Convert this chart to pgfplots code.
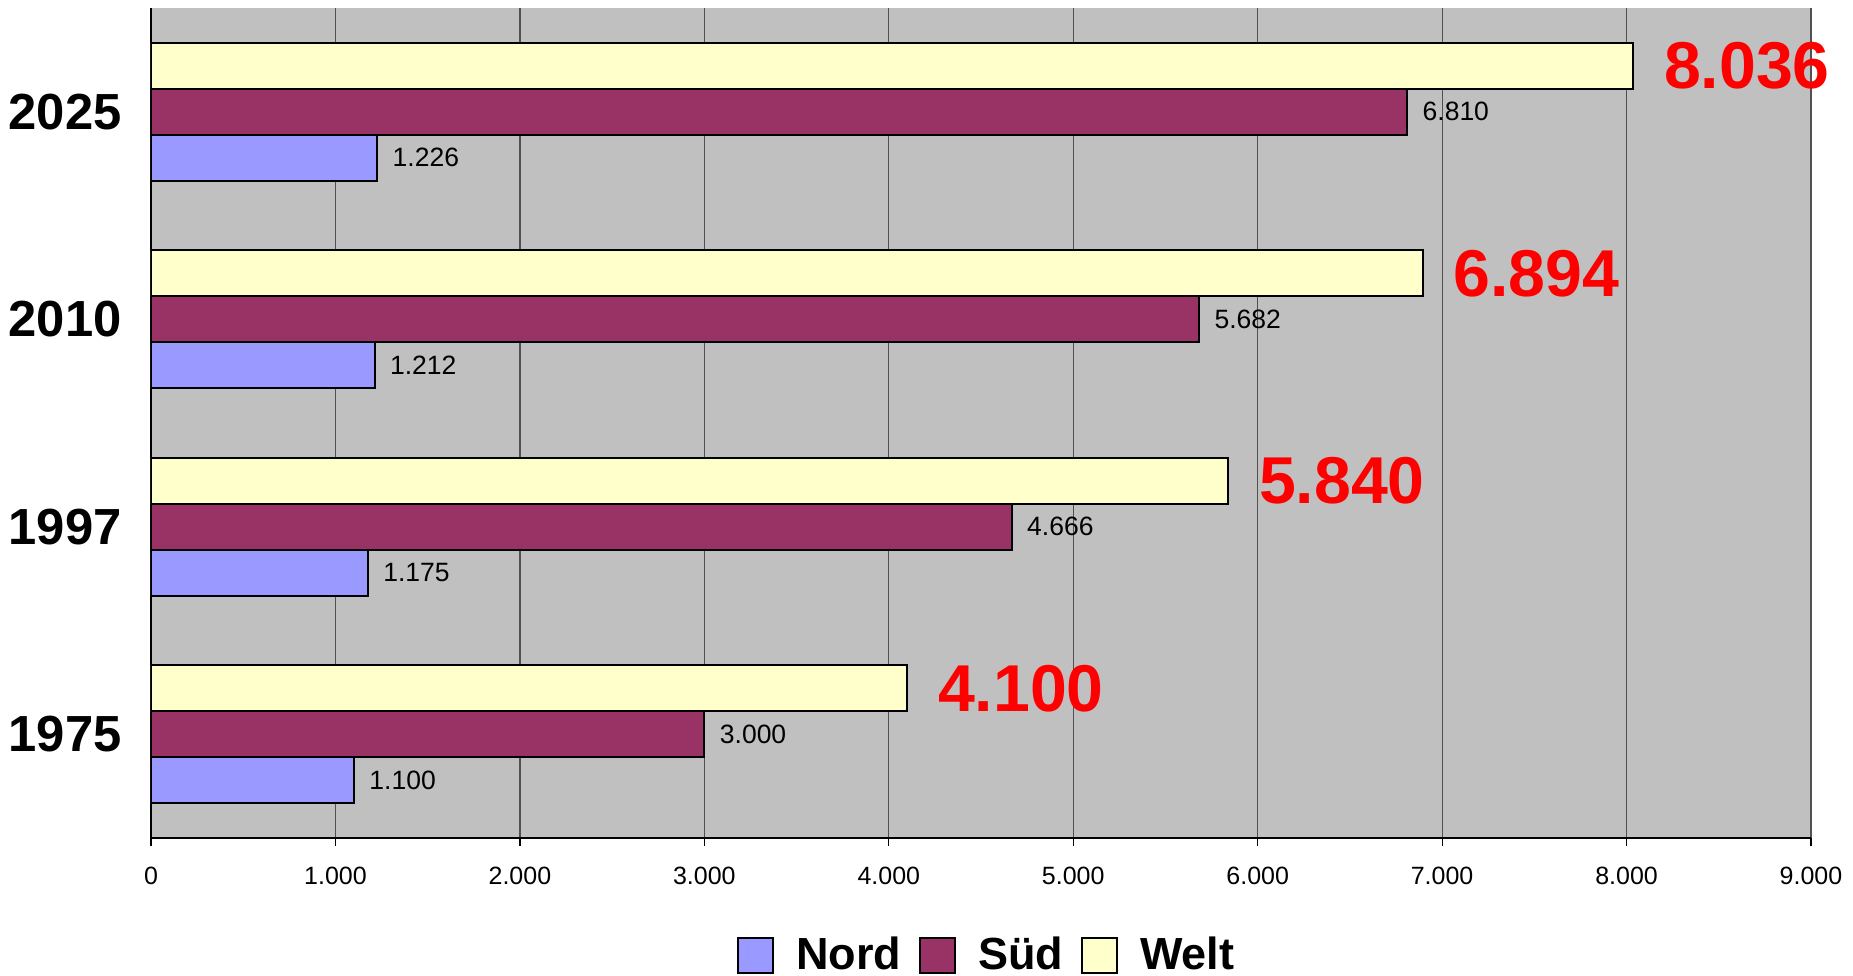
\documentclass[border=0pt]{standalone}
\usepackage{fontspec}
\setmainfont{Liberation Sans}
\usepackage{pgfplots}
\pgfplotsset{compat=1.18}
\definecolor{nord}{HTML}{9999FF}
\definecolor{sued}{HTML}{993366}
\definecolor{welt}{HTML}{FFFFCC}
\definecolor{bg}{HTML}{C0C0C0}
\definecolor{gridc}{HTML}{505050}

\begin{document}
\begin{tikzpicture}
\begin{axis}[
  at={(0,0)}, anchor=south west,
  scale only axis, width=664pt, height=332pt,
  xbar=0pt, bar width=18.4pt,
  xmin=0, xmax=9000, ymin=-0.5, ymax=3.5,
  axis lines*=left,
  axis line style={black, line width=0.8pt},
  axis background/.style={fill=bg},
  xtick={0,1000,...,9000},
  xmajorgrids, grid style={gridc, line width=0.5pt},
  ytick={0,1,2,3}, yticklabels={1975,1997,2010,2025},
  ytick style={draw=none},
  minor ytick={-0.5,0.5,1.5,2.5,3.5},
  minor tick length=7.6pt, major tick length=3.2pt,
  tick align=outside, tick style={black, line width=0.5pt},
  /pgf/number format/.cd, 1000 sep={.}, fixed, precision=0, assume math mode=true,
  /pgfplots/.cd,
  xticklabel style={font=\fontsize{10}{12}\selectfont, yshift=-5pt},
  yticklabel style={font=\fontsize{20.3}{24}\bfseries, xshift=-5pt},
  point meta=x,
  legend style={at={(0.5042,-0.141)}, anchor=center, legend columns=-1,
    draw=none, fill=none, font=\fontsize{18}{21}\bfseries,
    /tikz/every odd column/.append style={column sep=7pt},
    /tikz/every even column/.append style={column sep=5pt}},
  legend image code/.code={\draw[#1,draw=black,line width=0.8pt] (0pt,-7pt) rectangle (14pt,7pt);},
]
\addplot[fill=nord, draw=black, line width=0.8pt, nodes near coords,
  every node near coord/.append style={font=\fontsize{10.6}{12}\selectfont, black, xshift=2.5pt}]
  coordinates {(1100,0) (1175,1) (1212,2) (1226,3)};
\addplot[fill=sued, draw=black, line width=0.8pt, nodes near coords,
  every node near coord/.append style={font=\fontsize{10.6}{12}\selectfont, black, xshift=2.5pt}]
  coordinates {(3000,0) (4666,1) (5682,2) (6810,3)};
\addplot[fill=welt, draw=black, line width=0.8pt, nodes near coords,
  every node near coord/.append style={font=\fontsize{26.5}{30}\bfseries, red, xshift=8.6pt}]
  coordinates {(4100,0) (5840,1) (6894,2) (8036,3)};
\legend{Nord, Süd, Welt}
\end{axis}
\pgfresetboundingbox
\path[use as bounding box] (-60.4pt,-55.2pt) rectangle (680.8pt,335.2pt);
\end{tikzpicture}
\end{document}
